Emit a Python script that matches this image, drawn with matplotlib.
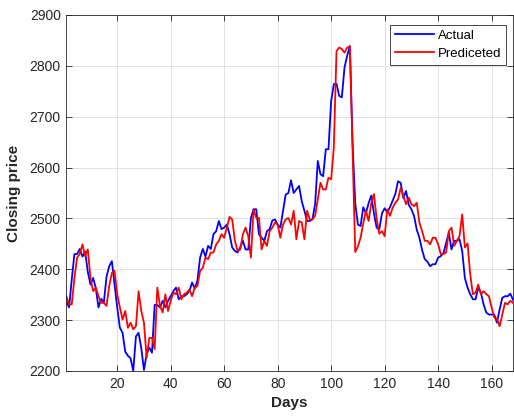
import numpy as np
import matplotlib
matplotlib.use("Agg")
import matplotlib.pyplot as plt

plt.rcParams['font.family'] = ['Liberation Sans', 'DejaVu Sans']

# Closing price per day
actual = [
    2337, 2325, 2380, 2430, 2430, 2440, 2425, 2435, 2395, 2370,
    2383, 2363, 2325, 2342, 2335, 2385, 2406, 2416, 2370, 2325,
    2285, 2275, 2238, 2230, 2225, 2200, 2268, 2275, 2245, 2202,
    2233, 2246, 2236, 2330, 2330, 2325, 2338, 2325, 2338, 2347,
    2357, 2364, 2341, 2347, 2347, 2351, 2357, 2374, 2362, 2378,
    2423, 2440, 2425, 2446, 2440, 2469, 2475, 2495, 2479, 2482,
    2488, 2469, 2443, 2436, 2433, 2443, 2456, 2439, 2439, 2501,
    2518, 2518, 2469, 2462, 2456, 2475, 2479, 2496, 2498, 2488,
    2482, 2515, 2547, 2550, 2575, 2550, 2557, 2564, 2534, 2515,
    2495, 2495, 2498, 2528, 2613, 2587, 2583, 2636, 2636, 2731,
    2764, 2765, 2741, 2738, 2797, 2820, 2839, 2650, 2530, 2488,
    2485, 2522, 2510, 2530, 2545, 2510, 2482, 2478, 2510, 2520,
    2512, 2522, 2535, 2548, 2573, 2570, 2540, 2554, 2527, 2518,
    2505, 2478, 2462, 2438, 2420, 2415, 2406, 2410, 2410, 2423,
    2426, 2432, 2452, 2472, 2439, 2456, 2456, 2459, 2436, 2383,
    2364, 2351, 2341, 2341, 2364, 2354, 2331, 2315, 2311, 2311,
    2311, 2295, 2321, 2344, 2347, 2347, 2352, 2340,
]

predicted = [
    2347, 2331, 2331, 2383, 2423, 2430, 2449, 2426, 2439, 2383,
    2357, 2364, 2347, 2334, 2334, 2328, 2367, 2393, 2397, 2351,
    2325, 2301, 2318, 2285, 2295, 2282, 2288, 2357, 2318, 2295,
    2226, 2265, 2265, 2243, 2364, 2328, 2315, 2351, 2318, 2338,
    2354, 2351, 2364, 2341, 2351, 2354, 2360, 2347, 2364, 2367,
    2397, 2403, 2423, 2420, 2433, 2433, 2449, 2456, 2469, 2462,
    2482, 2503, 2498, 2456, 2436, 2439, 2469, 2482, 2465, 2423,
    2518, 2501, 2501, 2439, 2456, 2446, 2475, 2482, 2492, 2488,
    2462, 2488, 2498, 2501, 2488, 2515, 2459, 2495, 2492, 2459,
    2515, 2498, 2498, 2505, 2537, 2570, 2557, 2557, 2580, 2577,
    2639, 2829, 2836, 2833, 2826, 2836, 2838, 2640, 2434, 2445,
    2462, 2490, 2515, 2495, 2530, 2548, 2500, 2470, 2475, 2465,
    2518, 2505, 2521, 2531, 2537, 2560, 2544, 2528, 2541, 2528,
    2524, 2531, 2492, 2475, 2456, 2456, 2449, 2462, 2462, 2449,
    2430, 2430, 2433, 2475, 2482, 2446, 2456, 2465, 2508, 2443,
    2451, 2390, 2351, 2354, 2370, 2351, 2357, 2351, 2347, 2325,
    2305, 2302, 2288, 2311, 2334, 2331, 2338, 2334,
]

days = np.arange(1, len(actual) + 1)
x_ticks = [20, 40, 60, 80, 100, 120, 140, 160]
y_ticks = [2200, 2300, 2400, 2500, 2600, 2700, 2800, 2900]

fig = plt.figure(figsize=(5.14, 4.17), dpi=100)
ax = fig.add_axes([66.4 / 514, 46 / 417, (513 - 66.4) / 514, (371 - 15) / 417])

ax.plot(days, actual, color='#0000FF', lw=1.3, label='Actual')
ax.plot(days, predicted, color='#FF0000', lw=1.3, label='Prediceted')

ax.set_xlim(1, len(actual))
ax.set_ylim(2200, 2900)
ax.set_xticks(x_ticks)
ax.set_yticks(y_ticks)

axis_col = '#262626'
ax.grid(True, color='#dcdcdc', lw=0.6)
ax.set_axisbelow(True)
for s in ax.spines.values():
    s.set_color(axis_col)
    s.set_linewidth(0.6)
ax.tick_params(direction='in', length=4, width=0.6, colors=axis_col,
               labelsize=10, top=True, right=True, pad=4)

ax.set_xlabel('Days', fontsize=11, fontweight='bold', color=axis_col, labelpad=4)
ax.set_ylabel('Closing price', fontsize=11, fontweight='bold', color=axis_col, labelpad=6)

leg = ax.legend(loc='upper right', bbox_to_anchor=(0.985, 0.972), fontsize=9.5,
                frameon=True, fancybox=False, edgecolor=axis_col, framealpha=1,
                handlelength=3.0, handletextpad=0.3, borderaxespad=0.0,
                labelspacing=0.45, borderpad=0.35)
leg.get_frame().set_linewidth(0.6)

fig.savefig('out.png', dpi=100)
